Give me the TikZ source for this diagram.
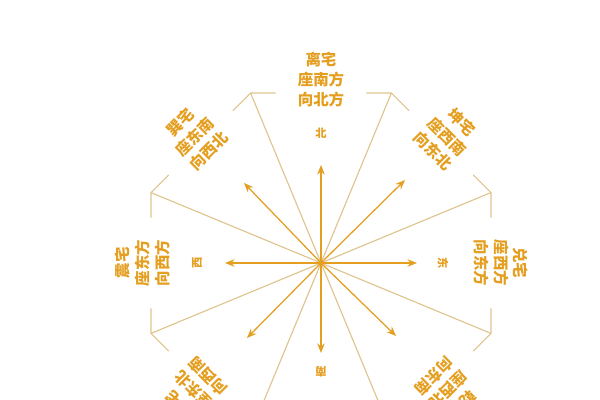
\documentclass[tikz,border=0pt]{standalone}
\usepackage{fontspec}
\usetikzlibrary{arrows.meta,calc}
\newfontfamily\cjk{Noto Sans CJK SC}
\definecolor{gold}{RGB}{228,158,32}
\definecolor{linetan}{RGB}{222,196,140}
\tikzset{lb/.append style={text=gold, align=center, inner sep=0pt, font=\cjk\bfseries\fontsize{11}{14.2}\selectfont}}
\tikzset{dr/.append style={text=gold, inner sep=0pt, font=\cjk\bfseries\fontsize{8}{9}\selectfont}}
\tikzset{ln/.append style={draw=linetan, line width=0.8pt}}
\tikzset{ar/.append style={draw=gold, line width=0.9pt, -{Stealth[length=2.4mm,width=1.9mm]}}}

\begin{document}
\begin{tikzpicture}[x=0.025cm,y=0.025cm]
                \useasboundingbox (-321,-137) rectangle (279,263);
                \clip (-321,-137) rectangle (279,263);
                % centre and corners
                \coordinate (o) at (0,0);
                \coordinate (k1) at (22.5:184);
                \coordinate (k2) at (67.5:184);
                \coordinate (k3) at (112.5:184);
                \coordinate (k4) at (157.5:184);
                \coordinate (k5) at (202.5:184);
                \coordinate (k6) at (247.5:184);
                \coordinate (k7) at (292.5:184);
                \coordinate (k8) at (337.5:184);
                \draw[ln] ($(k1)!0.625cm!(k8)$) -- (k1) -- ($(k1)!0.625cm!(k2)$);
                \draw[ln] ($(k2)!0.625cm!(k1)$) -- (k2) -- ($(k2)!0.625cm!(k3)$);
                \draw[ln] ($(k3)!0.625cm!(k2)$) -- (k3) -- ($(k3)!0.625cm!(k4)$);
                \draw[ln] ($(k4)!0.625cm!(k3)$) -- (k4) -- ($(k4)!0.625cm!(k5)$);
                \draw[ln] ($(k5)!0.625cm!(k4)$) -- (k5) -- ($(k5)!0.625cm!(k6)$);
                \draw[ln] ($(k8)!0.625cm!(k7)$) -- (k8) -- ($(k8)!0.625cm!(k1)$);
                \draw[ln] (o) -- (k1);
                \draw[ln] (o) -- (k2);
                \draw[ln] (o) -- (k3);
                \draw[ln] (o) -- (k4);
                \draw[ln] (o) -- (k5);
                \draw[ln] (o) -- (k6);
                \draw[ln] (o) -- (k7);
                \draw[ln] (o) -- (k8);
                % arrows
                \coordinate (n) at (0,98);
                \coordinate (ne) at (84,83);
                \coordinate (e) at (96,0);
                \coordinate (se) at (75,-73);
                \coordinate (s) at (0,-90);
                \coordinate (sw) at (-74,-75);
                \coordinate (w) at (-96,0);
                \coordinate (nw) at (-77,80);
                \draw[ar] (o) -- (n);
                \draw[ar] (o) -- (ne);
                \draw[ar] (o) -- (e);
                \draw[ar] (o) -- (se);
                \draw[ar] (o) -- (s);
                \draw[ar] (o) -- (sw);
                \draw[ar] (o) -- (w);
                \draw[ar] (o) -- (nw);
                \fill[gold] (o) circle (1.8pt);
                \node[dr] (bei) at (0,130) {北};
                \node[dr,rotate=-90] (dong) at (122,0) {东};
                \node[dr,rotate=180] (nan) at (0,-109) {南};
                \node[dr,rotate=90] (xi) at (-124,0) {西};
                \node[lb] (li) at (90:183) {离宅\\座南方\\向北方};
                \node[lb,rotate=-45] (kun) at (45:179) {坤宅\\座西南\\向东北};
                \node[lb,rotate=-90] (dui) at (0:180) {兑宅\\座西方\\向东方};
                \node[lb,rotate=-135] (qian) at (-45:180) {乾宅\\座西北\\向东南};
                \node[lb,rotate=135] (gen) at (-135:180) {艮宅\\座东北\\向西南};
                \node[lb,rotate=90] (zhen) at (180:178) {震宅\\座东方\\向西方};
                \node[lb,rotate=45] (xun) at (135:179) {巽宅\\座东南\\向西北};
            \end{tikzpicture}
\end{document}
